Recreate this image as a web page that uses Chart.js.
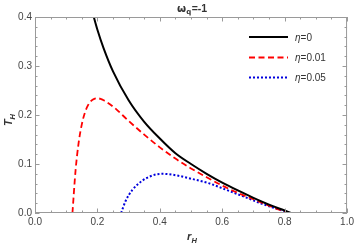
<!DOCTYPE html>
<html>
<head>
<meta charset="utf-8">
<script src="https://cdn.jsdelivr.net/npm/chart.js@4"></script>
<style>
  html, body { margin: 0; padding: 0; background: #fff; }
  #wrap { width: 357px; height: 247px; }
</style>
</head>
<body>
<div id="wrap"><canvas id="grafico" width="357" height="247"></canvas></div>
<script>
// valores
const rEta0 = [0.185, 0.2, 0.22, 0.25, 0.3, 0.35, 0.4, 0.45, 0.5, 0.55, 0.6, 0.65, 0.7, 0.75, 0.8, 0.82];
const tEta0 = [0.408, 0.374, 0.336, 0.289, 0.230, 0.186, 0.152, 0.122, 0.100, 0.080, 0.062, 0.046, 0.031, 0.017, 0.005, 0.0];

const rEta001 = [0.12, 0.13, 0.14, 0.15, 0.16, 0.17, 0.18, 0.19, 0.2, 0.21, 0.22, 0.24, 0.26, 0.28, 0.3, 0.35, 0.4, 0.45, 0.5, 0.55, 0.6, 0.65, 0.7, 0.75, 0.8, 0.815];
const tEta001 = [0.0, 0.087, 0.144, 0.181, 0.205, 0.220, 0.229, 0.233, 0.234, 0.233, 0.230, 0.222, 0.212, 0.200, 0.188, 0.160, 0.134, 0.111, 0.091, 0.073, 0.056, 0.041, 0.028, 0.015, 0.003, 0.0];

const rEta005 = [0.276, 0.29, 0.312, 0.344, 0.37, 0.39, 0.41, 0.43, 0.46, 0.5, 0.556, 0.61, 0.663, 0.714, 0.768, 0.818];
const tEta005 = [0.0, 0.024, 0.047, 0.066, 0.075, 0.079, 0.080, 0.079, 0.076, 0.070, 0.061, 0.048, 0.035, 0.022, 0.010, 0.0];

const xTicks = [0.0, 0.2, 0.4, 0.6, 0.8, 1.0];
const yTicks = [0.0, 0.1, 0.2, 0.3, 0.4];
const legendas = ['0', '0.01', '0.05'];

function pontos(xs, ys) {
    return xs.map((x, i) => ({ x: x, y: ys[i] }));
}

const estilos = [
    { cor: '#000000', dash: [], largura: 2 },
    { cor: '#ff0000', dash: [6, 3.5], largura: 1.8 },
    { cor: '#0000dd', dash: [2, 2], largura: 2 }
];

const decoracao = {
    id: 'decoracao',
    afterDatasetsDraw(chart) {
        const ctx = chart.ctx;
        const a = chart.chartArea;
        const sx = chart.scales.x, sy = chart.scales.y;
        ctx.save();
        // moldura
        ctx.strokeStyle = '#9a9a9a';
        ctx.lineWidth = 1;
        ctx.strokeRect(a.left + 0.5, a.top + 0.5, a.right - a.left - 1, a.bottom - a.top - 1);
        // marcas internas
        ctx.beginPath();
        for (let v = 0; v <= 1.0001; v += 0.05) {
            const px = Math.round(sx.getPixelForValue(v)) + 0.5;
            const maior = Math.abs(v * 5 - Math.round(v * 5)) < 1e-6;
            const len = maior ? 4.5 : 2.5;
            ctx.moveTo(px, a.bottom); ctx.lineTo(px, a.bottom - len);
            ctx.moveTo(px, a.top); ctx.lineTo(px, a.top + len);
        }
        for (let v = 0; v <= 0.4001; v += 0.02) {
            const py = Math.round(sy.getPixelForValue(v)) + 0.5;
            const maior = Math.abs(v * 10 - Math.round(v * 10)) < 1e-6;
            const len = maior ? 4.5 : 2.5;
            ctx.moveTo(a.left, py); ctx.lineTo(a.left + len, py);
            ctx.moveTo(a.right, py); ctx.lineTo(a.right - len, py);
        }
        ctx.stroke();

        // titulo
        ctx.fillStyle = '#333';
        ctx.textBaseline = 'alphabetic';
        ctx.font = 'bold 10.5px "DejaVu Sans", sans-serif';
        let x0 = 177;
        ctx.fillText('ω', x0, 12);
        let w = ctx.measureText('ω').width;
        ctx.font = 'bold 7px "DejaVu Sans", sans-serif';
        ctx.fillText('q', x0 + w, 14);
        let wq = ctx.measureText('q').width;
        ctx.font = 'bold 10.5px "Liberation Sans", sans-serif';
        ctx.fillText('=-1', x0 + w + wq + 0.5, 12);

        // titulos dos eixos
        ctx.fillStyle = '#333';
        ctx.font = 'bold italic 11px "Liberation Sans", sans-serif';
        ctx.fillText('r', 187, 240);
        ctx.font = 'bold italic 7.5px "Liberation Sans", sans-serif';
        ctx.fillText('H', 191.5, 243);

        ctx.save();
        ctx.translate(12, 126);
        ctx.rotate(-Math.PI / 2);
        ctx.font = 'bold italic 11px "Liberation Sans", sans-serif';
        ctx.fillText('T', 0, 0);
        ctx.font = 'bold italic 7.5px "Liberation Sans", sans-serif';
        ctx.fillText('H', 6.5, 3);
        ctx.restore();

        // legenda
        const ys = [37, 57.5, 77.5];
        estilos.forEach((e, i) => {
            ctx.beginPath();
            ctx.strokeStyle = e.cor;
            ctx.lineWidth = e.largura;
            ctx.setLineDash(e.dash);
            ctx.moveTo(249, ys[i]);
            ctx.lineTo(288, ys[i]);
            ctx.stroke();
            ctx.setLineDash([]);
            ctx.fillStyle = '#333';
            ctx.font = 'italic 10px "Liberation Sans", sans-serif';
            ctx.fillText('η', 295, ys[i] + 3.5);
            const we = ctx.measureText('η').width;
            ctx.font = '10px "Liberation Sans", sans-serif';
            ctx.fillText('=' + legendas[i], 295 + we, ys[i] + 3.5);
        });
        ctx.restore();
    }
};

const grafico = new Chart(document.getElementById('grafico').getContext('2d'), {
    type: 'scatter',
    data: {
        datasets: [
            { data: pontos(rEta0, tEta0) },
            { data: pontos(rEta001, tEta001) },
            { data: pontos(rEta005, tEta005) }
        ].map((d, i) => Object.assign(d, {
            showLine: true,
            borderColor: estilos[i].cor,
            borderWidth: estilos[i].largura,
            borderDash: estilos[i].dash,
            pointRadius: 0,
            cubicInterpolationMode: 'monotone',
            fill: false
        }))
    },
    options: {
        responsive: false,
        animation: false,
        layout: { padding: { top: 17, right: 7, left: 0, bottom: 0 } },
        plugins: { legend: { display: false }, title: { display: false }, tooltip: { enabled: false } },
        scales: {
            x: {
                type: 'linear', min: 0, max: 1,
                afterBuildTicks: s => { s.ticks = xTicks.map(v => ({ value: v })); },
                afterFit: s => { s.height = 34; },
                grid: { display: false, drawTicks: false },
                border: { display: false },
                ticks: {
                    padding: 3, color: '#444',
                    font: { family: '"Liberation Sans", sans-serif', size: 10 },
                    callback: v => v.toFixed(1)
                }
            },
            y: {
                type: 'linear', min: 0, max: 0.4,
                afterBuildTicks: s => { s.ticks = yTicks.map(v => ({ value: v })); },
                afterFit: s => { s.width = 35; },
                grid: { display: false, drawTicks: false },
                border: { display: false },
                ticks: {
                    padding: 3, color: '#444',
                    font: { family: '"Liberation Sans", sans-serif', size: 10 },
                    callback: v => v.toFixed(1)
                }
            }
        }
    },
    plugins: [decoracao]
});
</script>
</body>
</html>
